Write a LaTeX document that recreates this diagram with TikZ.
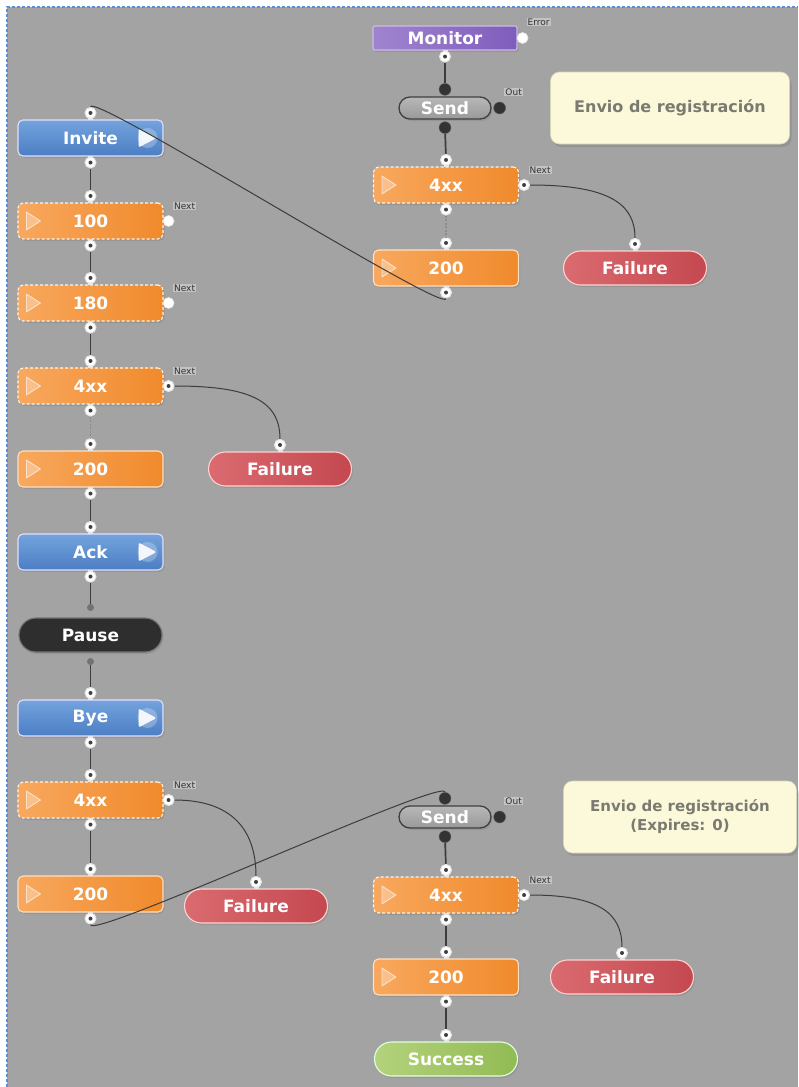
\documentclass[tikz,border=0pt]{standalone}
\usepackage{fontspec}
\setmainfont{DejaVu Sans}
\usetikzlibrary{shadows,calc}

\definecolor{canvas}{HTML}{A3A3A3}
\definecolor{frame}{HTML}{5B8FD8}
\definecolor{orangeA}{HTML}{F8A85E}
\definecolor{orangeB}{HTML}{F08A2C}
\definecolor{blueA}{HTML}{74A3DD}
\definecolor{blueB}{HTML}{4B7EC3}
\definecolor{redA}{HTML}{DA6B70}
\definecolor{redB}{HTML}{C4484F}
\definecolor{greenA}{HTML}{B4D27C}
\definecolor{greenB}{HTML}{92BB54}
\definecolor{purpA}{HTML}{A084CF}
\definecolor{purpB}{HTML}{7F5DBC}
\definecolor{noteFill}{HTML}{FCF9DB}
\definecolor{noteText}{HTML}{7A7A70}
\definecolor{wire}{HTML}{3C3C3C}
\definecolor{portRim}{HTML}{E6E6E6}

\tikzset{
  box/.style={rectangle, rounded corners=5pt, minimum width=145pt, minimum height=36pt,
    inner sep=0pt, font=\fontsize{17}{17}\selectfont\bfseries, text=white, line width=1.1pt,
    drop shadow={opacity=0.35, shadow xshift=1.5pt, shadow yshift=-2pt}},
  reply/.style={box, left color=orangeA, right color=orangeB, draw=orange!25!white},
  provisional/.style={reply, draw=white!92!orange, dash pattern=on 3pt off 2pt},
  request/.style={box, top color=blueA, bottom color=blueB, draw=blue!12!white},
  pill/.style={box, rounded corners=17pt, minimum height=34pt},
  failure/.style={pill, left color=redA, right color=redB, draw=red!18!white, minimum width=143pt},
  success/.style={pill, left color=greenA, right color=greenB, draw=green!12!white, minimum width=143pt},
  pausebox/.style={pill, fill=black!82, draw=black!55, minimum width=143pt},
  monitor/.style={box, rounded corners=2pt, minimum width=144pt, minimum height=24pt,
    left color=purpA, right color=purpB, draw=purpA!55!white},
  sendbox/.style={box, rounded corners=11pt, minimum width=92pt, minimum height=22pt,
    top color=black!28, bottom color=black!40, draw=black!75, line width=1.3pt},
  note/.style={rectangle, rounded corners=9pt, fill=noteFill, draw=noteFill!85!black,
    line width=.6pt, minimum width=239pt, minimum height=72pt, align=center,
    font=\fontsize{16}{20}\selectfont\bfseries, text=noteText,
    drop shadow={opacity=0.45, shadow xshift=2pt, shadow yshift=-3pt}},
  port/.style={circle, fill=white, draw=portRim, line width=1pt, minimum size=11pt, inner sep=0pt,
    path picture={\fill[black!75] (path picture bounding box.center) circle (2pt);}},
  freeport/.style={circle, fill=white, draw=portRim, line width=.6pt, minimum size=11pt, inner sep=0pt},
  darkport/.style={circle, fill=black!80, draw=black!60, minimum size=12pt, inner sep=0pt},
  pausedot/.style={circle, fill=black!55, minimum size=7pt, inner sep=0pt},
  neck/.style={fill=portRim},
  wirelink/.style={draw=wire, line width=1.7pt},
  softlink/.style={draw=black!45, line width=1.5pt, dash pattern=on 2pt off 1.5pt},
  curve/.style={draw=wire, line width=1pt},
  tag/.style={font=\fontsize{9}{9}\selectfont, text=black!80, inner sep=1pt,
    fill=white, fill opacity=0.35, text opacity=1},
}

% play marker on the left of a reply box
\newcommand\replyicon[1]{%
  \draw[white, opacity=.6, line width=.9pt, fill=white, fill opacity=.3, line join=round]
    ([shift={(9,-9)}]#1.west) -- ++(0,18) -- ++(14,-9) -- cycle;}
% play marker on the right of a request box
\newcommand\requesticon[1]{%
  \fill[white, opacity=.25] ([xshift=-16pt]#1.east) circle (10pt);
  \fill[white, opacity=.9, rounded corners=1.5pt]
    ([shift={(-25,-9.5)}]#1.east) -- ++(0,19) -- ++(18,-9.5) -- cycle;}

\begin{document}
\begin{tikzpicture}[x=1pt, y=-1pt]
  % canvas
  \path[use as bounding box] (0,0) rectangle (798,1087);
  \fill[white] (0,0) rectangle (798,1087);
  \fill[canvas] (7,7) rectangle (798,1087);
  \draw[frame, line width=1.2pt, dash pattern=on 3pt off 2pt] (7,1087) -- (7,7) -- (798,7);

  % left column: the call
  \node[request]     (inv)   at (90.5,138) {Invite};
  \node[provisional] (r100)  at (90.5,221) {100};
  \node[provisional] (r180)  at (90.5,303) {180};
  \node[provisional] (l4xx)  at (90.5,386) {4xx};
  \node[reply]       (l200)  at (90.5,469) {200};
  \node[failure]     (lfail) at (280,469) {Failure};
  \node[request]     (ack)   at (90.5,552) {Ack};
  \node[pausebox]    (pause) at (90.5,635) {Pause};
  \node[request]     (bye)   at (90.5,718) {Bye};
  \node[provisional] (b4xx)  at (90.5,800) {4xx};
  \node[reply]       (b200)  at (90.5,894) {200};
  \node[failure]     (bfail) at (256,906) {Failure};

  % right column: registration
  \node[monitor]     (mon)   at (445,38) {Monitor};
  \node[sendbox]     (send1) at (445,108) {Send};
  \node[note]        (note1) at (670,108) {Envio de registración};
  \node[provisional] (t4xx)  at (446,185) {4xx};
  \node[reply]       (t200)  at (446,268) {200};
  \node[failure]     (tfail) at (635,268) {Failure};
  \node[sendbox]     (send2) at (445,817) {Send};
  \node[note, minimum width=233pt, font=\fontsize{15}{19}\selectfont\bfseries]
                     (note2) at (680,817) {Envio de registración\\(Expires: 0)};
  \node[provisional] (s4xx)  at (446,895) {4xx};
  \node[reply]       (s200)  at (446,977) {200};
  \node[failure]     (sfail) at (622,977) {Failure};
  \node[success]     (succ)  at (446,1059) {Success};

  % markers
  \foreach \b in {r100,r180,l4xx,l200,b4xx,b200,t4xx,t200,s4xx,s200} {\replyicon{\b}}
  \foreach \b in {inv,ack,bye} {\requesticon{\b}}

  % ports, each joined to its box by a short neck
  \foreach \b in {inv,r100,r180,l4xx,l200,ack,bye,b4xx,b200,t4xx,t200,s4xx,s200,succ,lfail,bfail,tfail,sfail} {
    \fill[neck] ([shift={(-2.5,-6)}]\b.north) rectangle ([shift={(2.5,1)}]\b.north);
    \node[port] (\b-t) at ([yshift=6.5pt]\b.north) {};
  }
  \foreach \b in {inv,r100,r180,l4xx,l200,ack,bye,b4xx,b200,mon,t4xx,t200,s4xx,s200} {
    \fill[neck] ([shift={(-2.5,-1)}]\b.south) rectangle ([shift={(2.5,5)}]\b.south);
    \node[port] (\b-b) at ([yshift=-6pt]\b.south) {};
  }
  \foreach \b in {l4xx,b4xx,t4xx,s4xx}
    {\node[port] (\b-n) at ([xshift=5pt]\b.east) {};}
  \foreach \b in {r100,r180,mon}
    {\node[freeport] (\b-n) at ([xshift=5pt]\b.east) {};}
  \foreach \b in {send1,send2} {
    \node[darkport] (\b-t) at ([yshift=7pt]\b.north) {};
    \node[darkport] (\b-b) at ([yshift=-8pt]\b.south) {};
    \node[darkport] (\b-o) at ([xshift=8pt]\b.east) {};
  }
  \node[pausedot] (pause-t) at ([yshift=10pt]pause.north) {};
  \node[pausedot] (pause-b) at ([yshift=-9pt]pause.south) {};

  % port captions
  \foreach \b in {r100,r180,l4xx,b4xx,t4xx,s4xx}
    {\node[tag] at ([shift={(16,-15)}]\b-n.center) {Next};}
  \node[tag] at ([shift={(16,-16)}]mon-n.center) {Error};
  \node[tag] at ([shift={(14,-16)}]send1-o.center) {Out};
  \node[tag] at ([shift={(14,-16)}]send2-o.center) {Out};

  % straight links
  \draw[wirelink] (inv-b) -- (r100-t);
  \draw[wirelink] (r100-b) -- (r180-t);
  \draw[wirelink] (r180-b) -- (l4xx-t);
  \draw[softlink] (l4xx-b) -- (l200-t);
  \draw[wirelink] (l200-b) -- (ack-t);
  \draw[wirelink] (ack-b) -- (pause-t);
  \draw[wirelink] (pause-b) -- (bye-t);
  \draw[wirelink] (bye-b) -- (b4xx-t);
  \draw[wirelink] (b4xx-b) -- (b200-t);
  \draw[wirelink] (mon-b) -- (send1-t);
  \draw[wirelink] (send1-b) -- (t4xx-t);
  \draw[softlink] (t4xx-b) -- (t200-t);
  \draw[wirelink] (send2-b) -- (s4xx-t);
  \draw[wirelink] (s4xx-b) -- (s200-t);
  \draw[wirelink] (s200-b) -- (succ-t);

  % failure branches
  \draw[curve] (l4xx-n) .. controls +(80,0) and +(0,-45) .. (lfail-t);
  \draw[curve] (b4xx-n) .. controls +(70,0) and +(0,-45) .. (bfail-t);
  \draw[curve] (t4xx-n) .. controls +(85,0) and +(0,-40) .. (tfail-t);
  \draw[curve] (s4xx-n) .. controls +(75,0) and +(0,-40) .. (sfail-t);

  % cross links between the two flows
  \draw[curve] (t200-b) .. controls +(0,22) and +(0,-22) .. (inv-t);
  \draw[curve] (b200-b) .. controls +(0,22) and +(0,-22) .. (send2-t);
\end{tikzpicture}
\end{document}
